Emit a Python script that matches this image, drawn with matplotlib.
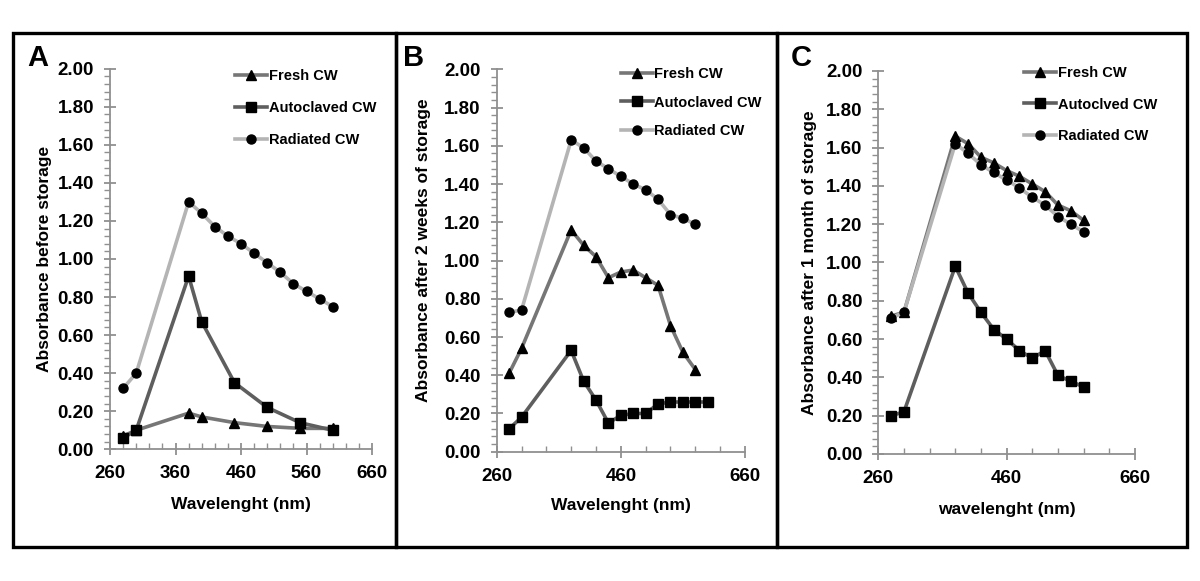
import matplotlib
matplotlib.use("Agg")
import numpy as np
import matplotlib.pyplot as plt
from matplotlib.patches import Rectangle
from matplotlib.ticker import MultipleLocator, FormatStrFormatter

plt.rcParams["font.family"] = ["Liberation Sans", "DejaVu Sans"]
plt.rcParams["font.weight"] = "bold"

# Panel A - before storage
freshA_x = [280, 300, 380, 400, 450, 500, 550, 600]
freshA_y = [0.07, 0.10, 0.19, 0.17, 0.14, 0.12, 0.11, 0.11]
autoA_x = [280, 300, 380, 400, 450, 500, 550, 600]
autoA_y = [0.06, 0.10, 0.91, 0.67, 0.35, 0.22, 0.14, 0.10]
radA_x = [280, 300, 380, 400, 420, 440, 460, 480, 500, 520, 540, 560, 580, 600]
radA_y = [0.32, 0.40, 1.30, 1.24, 1.17, 1.12, 1.08, 1.03, 0.98, 0.93, 0.87, 0.83, 0.79, 0.75]

# Panel B - after 2 weeks
freshB_x = [280, 300, 380, 400, 420, 440, 460, 480, 500, 520, 540, 560, 580]
freshB_y = [0.41, 0.54, 1.16, 1.08, 1.02, 0.91, 0.94, 0.95, 0.91, 0.87, 0.66, 0.52, 0.43]
autoB_x = [280, 300, 380, 400, 420, 440, 460, 480, 500, 520, 540, 560, 580, 600]
autoB_y = [0.12, 0.18, 0.53, 0.37, 0.27, 0.15, 0.19, 0.20, 0.20, 0.25, 0.26, 0.26, 0.26, 0.26]
radB_x = [280, 300, 380, 400, 420, 440, 460, 480, 500, 520, 540, 560, 580]
radB_y = [0.73, 0.74, 1.63, 1.59, 1.52, 1.48, 1.44, 1.40, 1.37, 1.32, 1.24, 1.22, 1.19]

# Panel C - after 1 month
freshC_x = [280, 300, 380, 400, 420, 440, 460, 480, 500, 520, 540, 560, 580]
freshC_y = [0.72, 0.74, 1.66, 1.62, 1.55, 1.52, 1.48, 1.45, 1.41, 1.37, 1.30, 1.27, 1.22]
autoC_x = [280, 300, 380, 400, 420, 440, 460, 480, 500, 520, 540, 560, 580]
autoC_y = [0.20, 0.22, 0.98, 0.84, 0.74, 0.65, 0.60, 0.54, 0.50, 0.54, 0.41, 0.38, 0.35]
radC_x = [280, 300, 380, 400, 420, 440, 460, 480, 500, 520, 540, 560, 580]
radC_y = [0.71, 0.74, 1.62, 1.57, 1.51, 1.47, 1.43, 1.39, 1.34, 1.30, 1.24, 1.20, 1.16]

panelLetters = ["A", "B", "C"]
yLabels = ["Absorbance before storage",
           "Absorbance after 2 weeks of storage",
           "Absorbance after 1 month of storage"]
xLabels = ["Wavelenght (nm)", "Wavelenght (nm)", "wavelenght (nm)"]
legendLabels = [["Fresh CW", "Autoclaved CW", "Radiated CW"],
                ["Fresh CW", "Autoclaved CW", "Radiated CW"],
                ["Fresh CW", "Autoclved CW", "Radiated CW"]]

series = [
    [(freshA_x, freshA_y), (autoA_x, autoA_y), (radA_x, radA_y)],
    [(freshB_x, freshB_y), (autoB_x, autoB_y), (radB_x, radB_y)],
    [(freshC_x, freshC_y), (autoC_x, autoC_y), (radC_x, radC_y)],
]

lineColors = ["#767676", "#5e5e5e", "#b4b4b4"]
markers = ["^", "s", "o"]

# layout (pixels of a 1200x581 figure)
axesRects = [[0.0917, 0.2267, 0.2183, 0.6551],
             [0.4139, 0.2225, 0.2069, 0.6582],
             [0.7319, 0.2186, 0.2139, 0.6592]]
boxes = [(13, 396), (396, 777), (777, 1187)]
majorX = [100, 200, 200]
minorX = [20, 40, 40]
yLabelPos = [(-0.221, 0.5), (-0.265, 0.527), (-0.239, 0.5)]
xLabelPos = [(0.5, -0.125), (0.5, -0.122), (0.5, -0.125)]
legendPos = [(0.477, 1.0), (0.50, 1.006), (0.569, 1.013)]
legendSpacing = [1.25, 1.0, 1.2]
letterPos = [(27, 66), (403, 66), (791, 66)]

fig = plt.figure(figsize=(12, 5.81), dpi=100)
spineColor = "#909090"

for i in range(3):
    ax = fig.add_axes(axesRects[i])
    for (xs, ys), color, marker, label in zip(series[i], lineColors, markers, legendLabels[i]):
        ax.plot(xs, ys, color=color, linewidth=2.6, marker=marker, markersize=6.5,
                markerfacecolor="black", markeredgecolor="black", label=label)

    ax.set_xlim(260, 660)
    ax.set_ylim(0, 2.0)
    ax.set_xticks(np.arange(260, 661, majorX[i]))
    ax.set_xticks(np.arange(260, 661, minorX[i]), minor=True)
    ax.yaxis.set_major_locator(MultipleLocator(0.2))
    ax.yaxis.set_minor_locator(MultipleLocator(0.04))
    ax.yaxis.set_major_formatter(FormatStrFormatter("%.2f"))

    for side in ["top", "right"]:
        ax.spines[side].set_visible(False)
    for side in ["left", "bottom"]:
        ax.spines[side].set_color(spineColor)
        ax.spines[side].set_linewidth(1.3)

    ax.tick_params(which="major", direction="inout", length=9, width=1.3, color=spineColor,
                   labelsize=13.5, labelcolor="black")
    ax.tick_params(axis="x", which="major", pad=7)
    ax.tick_params(axis="y", which="major", pad=7)
    ax.tick_params(axis="y", which="minor", direction="out", length=4, width=1, color=spineColor)
    ax.tick_params(axis="x", which="minor", direction="in", length=4, width=1, color=spineColor)
    for lbl in ax.get_xticklabels() + ax.get_yticklabels():
        lbl.set_fontweight("bold")

    ax.set_ylabel(yLabels[i], fontsize=12.5, fontweight="bold")
    ax.yaxis.set_label_coords(*yLabelPos[i])
    ax.set_xlabel(xLabels[i], fontsize=12.5, fontweight="bold")
    ax.xaxis.set_label_coords(*xLabelPos[i])

    ax.legend(loc="upper left", bbox_to_anchor=legendPos[i], frameon=False, borderpad=0,
              borderaxespad=0, handlelength=2.2, handletextpad=0.1,
              labelspacing=legendSpacing[i], prop={"size": 10.5, "weight": "bold"})

    left, right = boxes[i]
    fig.patches.append(Rectangle((left / 1200, 1 - 547 / 581), (right - left) / 1200,
                                 (547 - 32.7) / 581, transform=fig.transFigure,
                                 fill=False, edgecolor="black", linewidth=2.4))
    lx, ly = letterPos[i]
    fig.text(lx / 1200, 1 - ly / 581, panelLetters[i], fontsize=21, fontweight="bold",
             ha="left", va="baseline")

fig.savefig("out.png", dpi=100, facecolor="white")
